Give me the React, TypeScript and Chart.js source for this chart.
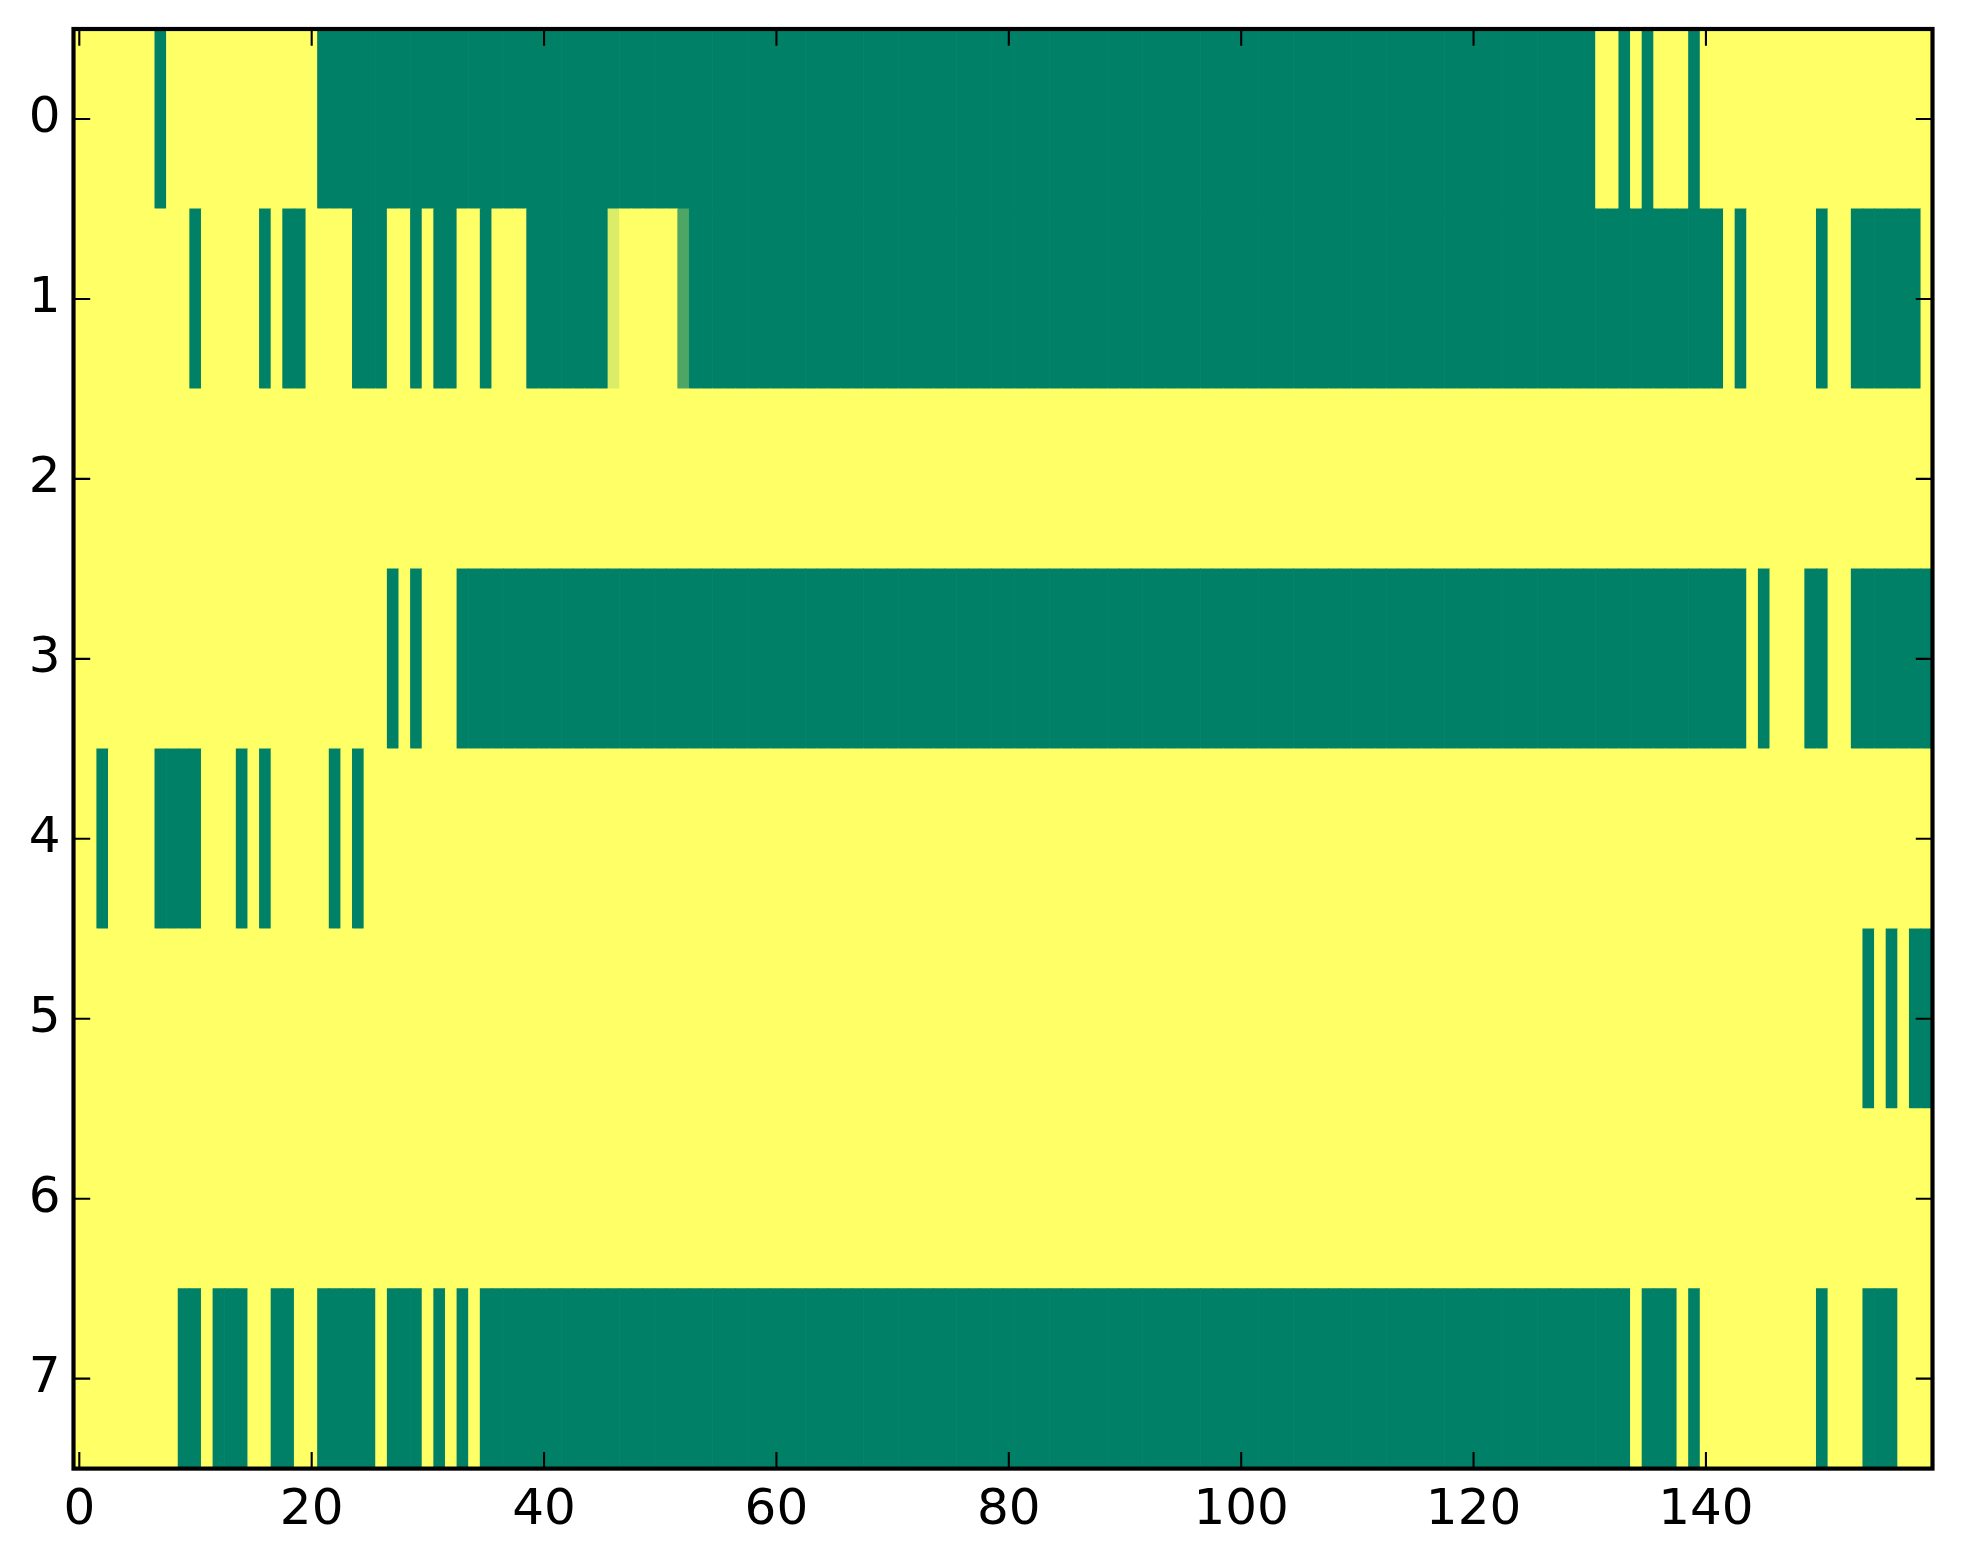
import React, { useEffect, useRef } from "react";
import { Chart, registerables } from "chart.js";

Chart.register(...registerables);

// Row labels (y axis) and x tick values
const rowLabels = ["0", "1", "2", "3", "4", "5", "6", "7"];
const xTickValues = [0, 20, 40, 60, 80, 100, 120, 140];
const yTickValues = [0, 1, 2, 3, 4, 5, 6, 7];

// Cell values per row (160 columns), 0 = green end, 1 = yellow end of "summer" colormap
const row0 = [
  1, 1, 1, 1, 1, 1, 1, 0, 1, 1, 1, 1, 1, 1, 1, 1, 1, 1, 1, 1,
  1, 0, 0, 0, 0, 0, 0, 0, 0, 0, 0, 0, 0, 0, 0, 0, 0, 0, 0, 0,
  0, 0, 0, 0, 0, 0, 0, 0, 0, 0, 0, 0, 0, 0, 0, 0, 0, 0, 0, 0,
  0, 0, 0, 0, 0, 0, 0, 0, 0, 0, 0, 0, 0, 0, 0, 0, 0, 0, 0, 0,
  0, 0, 0, 0, 0, 0, 0, 0, 0, 0, 0, 0, 0, 0, 0, 0, 0, 0, 0, 0,
  0, 0, 0, 0, 0, 0, 0, 0, 0, 0, 0, 0, 0, 0, 0, 0, 0, 0, 0, 0,
  0, 0, 0, 0, 0, 0, 0, 0, 0, 0, 0, 1, 1, 0, 1, 0, 1, 1, 1, 0,
  1, 1, 1, 1, 1, 1, 1, 1, 1, 1, 1, 1, 1, 1, 1, 1, 1, 1, 1, 1,
];
const row1 = [
  1, 1, 1, 1, 1, 1, 1, 1, 1, 1, 0, 1, 1, 1, 1, 1, 0, 1, 0, 0,
  1, 1, 1, 1, 0, 0, 0, 1, 1, 0, 1, 0, 0, 1, 1, 0, 1, 1, 1, 0,
  0, 0, 0, 0, 0, 0, 0.86, 1, 1, 1, 1, 1, 0.3, 0, 0, 0, 0, 0, 0, 0,
  0, 0, 0, 0, 0, 0, 0, 0, 0, 0, 0, 0, 0, 0, 0, 0, 0, 0, 0, 0,
  0, 0, 0, 0, 0, 0, 0, 0, 0, 0, 0, 0, 0, 0, 0, 0, 0, 0, 0, 0,
  0, 0, 0, 0, 0, 0, 0, 0, 0, 0, 0, 0, 0, 0, 0, 0, 0, 0, 0, 0,
  0, 0, 0, 0, 0, 0, 0, 0, 0, 0, 0, 0, 0, 0, 0, 0, 0, 0, 0, 0,
  0, 0, 1, 0, 1, 1, 1, 1, 1, 1, 0, 1, 1, 0, 0, 0, 0, 0, 0, 1,
];
const row2 = [
  1, 1, 1, 1, 1, 1, 1, 1, 1, 1, 1, 1, 1, 1, 1, 1, 1, 1, 1, 1,
  1, 1, 1, 1, 1, 1, 1, 1, 1, 1, 1, 1, 1, 1, 1, 1, 1, 1, 1, 1,
  1, 1, 1, 1, 1, 1, 1, 1, 1, 1, 1, 1, 1, 1, 1, 1, 1, 1, 1, 1,
  1, 1, 1, 1, 1, 1, 1, 1, 1, 1, 1, 1, 1, 1, 1, 1, 1, 1, 1, 1,
  1, 1, 1, 1, 1, 1, 1, 1, 1, 1, 1, 1, 1, 1, 1, 1, 1, 1, 1, 1,
  1, 1, 1, 1, 1, 1, 1, 1, 1, 1, 1, 1, 1, 1, 1, 1, 1, 1, 1, 1,
  1, 1, 1, 1, 1, 1, 1, 1, 1, 1, 1, 1, 1, 1, 1, 1, 1, 1, 1, 1,
  1, 1, 1, 1, 1, 1, 1, 1, 1, 1, 1, 1, 1, 1, 1, 1, 1, 1, 1, 1,
];
const row3 = [
  1, 1, 1, 1, 1, 1, 1, 1, 1, 1, 1, 1, 1, 1, 1, 1, 1, 1, 1, 1,
  1, 1, 1, 1, 1, 1, 1, 0, 1, 0, 1, 1, 1, 0, 0, 0, 0, 0, 0, 0,
  0, 0, 0, 0, 0, 0, 0, 0, 0, 0, 0, 0, 0, 0, 0, 0, 0, 0, 0, 0,
  0, 0, 0, 0, 0, 0, 0, 0, 0, 0, 0, 0, 0, 0, 0, 0, 0, 0, 0, 0,
  0, 0, 0, 0, 0, 0, 0, 0, 0, 0, 0, 0, 0, 0, 0, 0, 0, 0, 0, 0,
  0, 0, 0, 0, 0, 0, 0, 0, 0, 0, 0, 0, 0, 0, 0, 0, 0, 0, 0, 0,
  0, 0, 0, 0, 0, 0, 0, 0, 0, 0, 0, 0, 0, 0, 0, 0, 0, 0, 0, 0,
  0, 0, 0, 0, 1, 0, 1, 1, 1, 0, 0, 1, 1, 0, 0, 0, 0, 0, 0, 0,
];
const row4 = [
  1, 1, 0, 1, 1, 1, 1, 0, 0, 0, 0, 1, 1, 1, 0, 1, 0, 1, 1, 1,
  1, 1, 0, 1, 0, 1, 1, 1, 1, 1, 1, 1, 1, 1, 1, 1, 1, 1, 1, 1,
  1, 1, 1, 1, 1, 1, 1, 1, 1, 1, 1, 1, 1, 1, 1, 1, 1, 1, 1, 1,
  1, 1, 1, 1, 1, 1, 1, 1, 1, 1, 1, 1, 1, 1, 1, 1, 1, 1, 1, 1,
  1, 1, 1, 1, 1, 1, 1, 1, 1, 1, 1, 1, 1, 1, 1, 1, 1, 1, 1, 1,
  1, 1, 1, 1, 1, 1, 1, 1, 1, 1, 1, 1, 1, 1, 1, 1, 1, 1, 1, 1,
  1, 1, 1, 1, 1, 1, 1, 1, 1, 1, 1, 1, 1, 1, 1, 1, 1, 1, 1, 1,
  1, 1, 1, 1, 1, 1, 1, 1, 1, 1, 1, 1, 1, 1, 1, 1, 1, 1, 1, 1,
];
const row5 = [
  1, 1, 1, 1, 1, 1, 1, 1, 1, 1, 1, 1, 1, 1, 1, 1, 1, 1, 1, 1,
  1, 1, 1, 1, 1, 1, 1, 1, 1, 1, 1, 1, 1, 1, 1, 1, 1, 1, 1, 1,
  1, 1, 1, 1, 1, 1, 1, 1, 1, 1, 1, 1, 1, 1, 1, 1, 1, 1, 1, 1,
  1, 1, 1, 1, 1, 1, 1, 1, 1, 1, 1, 1, 1, 1, 1, 1, 1, 1, 1, 1,
  1, 1, 1, 1, 1, 1, 1, 1, 1, 1, 1, 1, 1, 1, 1, 1, 1, 1, 1, 1,
  1, 1, 1, 1, 1, 1, 1, 1, 1, 1, 1, 1, 1, 1, 1, 1, 1, 1, 1, 1,
  1, 1, 1, 1, 1, 1, 1, 1, 1, 1, 1, 1, 1, 1, 1, 1, 1, 1, 1, 1,
  1, 1, 1, 1, 1, 1, 1, 1, 1, 1, 1, 1, 1, 1, 0, 1, 0, 1, 0, 0,
];
const row6 = [
  1, 1, 1, 1, 1, 1, 1, 1, 1, 1, 1, 1, 1, 1, 1, 1, 1, 1, 1, 1,
  1, 1, 1, 1, 1, 1, 1, 1, 1, 1, 1, 1, 1, 1, 1, 1, 1, 1, 1, 1,
  1, 1, 1, 1, 1, 1, 1, 1, 1, 1, 1, 1, 1, 1, 1, 1, 1, 1, 1, 1,
  1, 1, 1, 1, 1, 1, 1, 1, 1, 1, 1, 1, 1, 1, 1, 1, 1, 1, 1, 1,
  1, 1, 1, 1, 1, 1, 1, 1, 1, 1, 1, 1, 1, 1, 1, 1, 1, 1, 1, 1,
  1, 1, 1, 1, 1, 1, 1, 1, 1, 1, 1, 1, 1, 1, 1, 1, 1, 1, 1, 1,
  1, 1, 1, 1, 1, 1, 1, 1, 1, 1, 1, 1, 1, 1, 1, 1, 1, 1, 1, 1,
  1, 1, 1, 1, 1, 1, 1, 1, 1, 1, 1, 1, 1, 1, 1, 1, 1, 1, 1, 1,
];
const row7 = [
  1, 1, 1, 1, 1, 1, 1, 1, 1, 0, 0, 1, 0, 0, 0, 1, 1, 0, 0, 1,
  1, 0, 0, 0, 0, 0, 1, 0, 0, 0, 1, 0, 1, 0, 1, 0, 0, 0, 0, 0,
  0, 0, 0, 0, 0, 0, 0, 0, 0, 0, 0, 0, 0, 0, 0, 0, 0, 0, 0, 0,
  0, 0, 0, 0, 0, 0, 0, 0, 0, 0, 0, 0, 0, 0, 0, 0, 0, 0, 0, 0,
  0, 0, 0, 0, 0, 0, 0, 0, 0, 0, 0, 0, 0, 0, 0, 0, 0, 0, 0, 0,
  0, 0, 0, 0, 0, 0, 0, 0, 0, 0, 0, 0, 0, 0, 0, 0, 0, 0, 0, 0,
  0, 0, 0, 0, 0, 0, 0, 0, 0, 0, 0, 0, 0, 0, 1, 0, 0, 0, 1, 0,
  1, 1, 1, 1, 1, 1, 1, 1, 1, 1, 0, 1, 1, 1, 0, 0, 0, 1, 1, 1,
];

const rows = [row0, row1, row2, row3, row4, row5, row6, row7];

// matplotlib "summer" colormap
function summer(v: number): string {
  const r = Math.round(v * 255);
  const g = Math.round((0.5 + v / 2) * 255);
  const b = Math.round(0.4 * 255);
  return `rgb(${r},${g},${b})`;
}

const FONT = "'DejaVu Sans', 'Liberation Sans', sans-serif";

const framePlugin = {
  id: "frameTicks",
  afterDraw(chart: any) {
    const { ctx, chartArea: a, scales } = chart;
    const x = scales.x;
    const y = scales.y;
    const L = 16.7;
    ctx.save();
    ctx.strokeStyle = "#000";
    ctx.lineWidth = 2.1;
    ctx.lineCap = "butt";
    ctx.beginPath();
    x.ticks.forEach((t: any) => {
      const px = x.getPixelForValue(t.value);
      ctx.moveTo(px, a.bottom);
      ctx.lineTo(px, a.bottom - L);
      ctx.moveTo(px, a.top);
      ctx.lineTo(px, a.top + L);
    });
    y.ticks.forEach((t: any) => {
      const py = y.getPixelForValue(t.value);
      ctx.moveTo(a.left, py);
      ctx.lineTo(a.left + L, py);
      ctx.moveTo(a.right, py);
      ctx.lineTo(a.right - L, py);
    });
    ctx.stroke();
    ctx.lineWidth = 4.17;
    ctx.lineJoin = "miter";
    ctx.strokeRect(a.left, a.top, a.right - a.left, a.bottom - a.top);
    ctx.restore();
  },
};

export default function App() {
  const canvasRef = useRef<HTMLCanvasElement | null>(null);

  useEffect(() => {
    if (!canvasRef.current) return;
    const points: any[] = [];
    const colors: string[] = [];
    rows.forEach((row, r) => {
      row.forEach((v, c) => {
        points.push({ x: [c - 0.5, c + 0.5], y: r });
        colors.push(summer(v));
      });
    });

    const chart = new Chart(canvasRef.current, {
      type: "bar",
      data: {
        datasets: [
          {
            data: points,
            backgroundColor: colors,
            borderWidth: 0,
            barPercentage: 1,
            categoryPercentage: 1,
          } as any,
        ],
      },
      options: {
        indexAxis: "y",
        animation: false,
        responsive: false,
        devicePixelRatio: 1,
        layout: { padding: { top: 29, right: 30.5, left: 0, bottom: 0 } },
        plugins: {
          legend: { display: false },
          tooltip: { enabled: false },
        },
        scales: {
          x: {
            type: "linear",
            position: "bottom",
            min: -0.5,
            max: 159.5,
            offset: false,
            grid: { display: false, drawTicks: false },
            border: { display: false },
            afterBuildTicks: (scale: any) => {
              scale.ticks = xTickValues.map((v) => ({ value: v }));
            },
            afterFit: (scale: any) => {
              scale.height = 95.4;
              scale.paddingLeft = 0;
              scale.paddingRight = 0;
            },
            ticks: {
              autoSkip: false,
              maxRotation: 0,
              padding: 12,
              color: "#000",
              font: { family: FONT, size: 50 },
              callback: (v: any) => String(v),
            },
          },
          y: {
            type: "linear",
            position: "left",
            reverse: true,
            min: -0.5,
            max: 7.5,
            offset: false,
            grid: { display: false, drawTicks: false },
            border: { display: false },
            afterBuildTicks: (scale: any) => {
              scale.ticks = yTickValues.map((v) => ({ value: v }));
            },
            afterFit: (scale: any) => {
              scale.width = 73.5;
              scale.paddingTop = 0;
              scale.paddingBottom = 0;
            },
            ticks: {
              autoSkip: false,
              padding: 13,
              color: "#000",
              font: { family: FONT, size: 50 },
              callback: (v: any) => rowLabels[Number(v)] ?? String(v),
            },
          },
        },
      } as any,
      plugins: [framePlugin],
    });

    return () => chart.destroy();
  }, []);

  return (
    <div
      style={{
        position: "absolute",
        left: 0,
        top: 0,
        width: 1963,
        height: 1564,
        background: "#fff",
      }}
    >
      <canvas
        ref={canvasRef}
        width={1963}
        height={1564}
        style={{ width: 1963, height: 1564, display: "block" }}
      />
    </div>
  );
}
